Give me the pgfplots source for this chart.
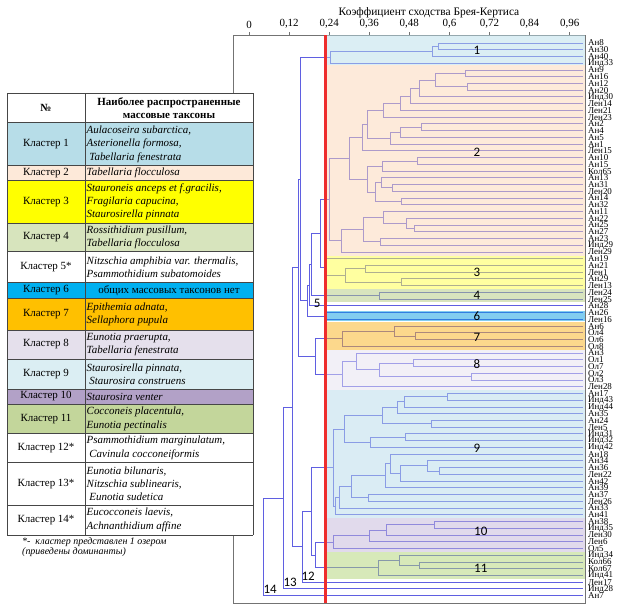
\documentclass[border=0pt]{standalone}
\usepackage{fontspec}
\setmainfont{Liberation Serif}
\newfontfamily\numfont{Carlito}
\usepackage{pgfplots}
\pgfplotsset{compat=1.18}
\definecolor{treeblue}{RGB}{95,95,225}
\definecolor{redln}{RGB}{238,45,45}
\definecolor{bA}{RGB}{183,221,233}
\definecolor{bB}{RGB}{251,213,181}
\definecolor{bC}{RGB}{255,255,65}
\definecolor{bD}{RGB}{177,201,125}
\definecolor{bF}{RGB}{5,155,225}
\definecolor{bG}{RGB}{249,177,25}
\definecolor{bH}{RGB}{229,225,239}
\definecolor{bI}{RGB}{181,217,233}
\definecolor{bJ}{RGB}{195,181,217}
\definecolor{bK}{RGB}{175,211,115}
% table colours
\definecolor{tA}{RGB}{183,221,232}
\definecolor{tB}{RGB}{253,233,217}
\definecolor{tC}{RGB}{255,255,0}
\definecolor{tD}{RGB}{215,228,189}
\definecolor{tF}{RGB}{0,176,240}
\definecolor{tG}{RGB}{255,192,0}
\definecolor{tH}{RGB}{229,224,236}
\definecolor{tI}{RGB}{219,238,243}
\definecolor{tJ}{RGB}{178,161,199}
\definecolor{tK}{RGB}{195,214,155}
\definecolor{tline}{RGB}{70,70,70}
\newcommand{\cell}{\fontsize{11}{13.4}\selectfont}
\newcommand{\cellit}{\fontsize{11}{13.4}\selectfont\itshape}
\pgfplotsset{tr/.style={color=treeblue, line width=0.9pt, mark=none, forget plot}}
\begin{document}
\begin{tikzpicture}
\useasboundingbox (0,0) rectangle (623bp,-612bp);
\begin{axis}[
  at={(233bp,-35bp)}, anchor=north west,
  scale only axis, width=352bp, height=568bp,
  xmin=-0.048, xmax=1.006, ymin=-0.19, ymax=84.09, y dir=reverse,
  axis line style={draw=gray!90!black, line width=0.7pt},
  xtick={0,0.12,0.24,0.36,0.48,0.6,0.72,0.84,0.96},
  xticklabels={0,{0,12},{0,24},{0,36},{0,48},{0,6},{0,72},{0,84},{0,96}},
  xtick pos=right, xticklabel pos=right,
  tick align=outside, major tick length=3bp,
  x tick style={draw=gray!90!black, line width=0.6pt},
  xticklabel style={font=\fontsize{11}{11}\selectfont},
  ytick={1,...,83},
  yticklabels={Ан8,Ан30,Ан40,Инд33,Ан9,Ан16,Ан12,Ан20,Инд30,Лен14,
   Лен21,Лен23,Ан2,Ан4,Ан5,Ан1,Лен15,Ан10,Ан15,Кол65,
   Ан13,Ан31,Лен20,Ан14,Ан32,Ан11,Ан22,Ан25,Ан27,Ан23,
   Инд29,Лен29,Ан19,Ан21,Лен1,Ан29,Лен13,Лен24,Лен25,Ан28,
   Ан26,Лен16,Ан6,Ол4,Ол6,Ол8,Ан3,Ол1,Ол7,Ол2,
   Ол3,Лен28,Ан17,Инд43,Инд44,Ан35,Ан24,Лен5,Инд31,Инд32,
   Инд42,Ан18,Ан34,Ан36,Лен22,Ан42,Ан39,Ан37,Лен26,Ан33,
   Ан41,Ан38,Инд35,Лен30,Лен6,Ол5,Инд34,Кол66,Кол67,Инд41,
   Лен17,Инд28,Ан7},
  ytick pos=right, yticklabel pos=right,
  y tick style={draw=none},
  yticklabel style={font=\fontsize{9}{9}\selectfont, inner sep=0pt, xshift=0bp},
  clip=false,
]
% ---- cluster 1
\addplot[tr] coordinates {(1,1)(0.566,1)(0.566,2)(1,2)};
\addplot[tr] coordinates {(0.566,1.5)(0.55,1.5)(0.55,3)(1,3)};
\addplot[tr] coordinates {(0.55,2.25)(0.245,2.25)(0.245,4)(1,4)};
% ---- cluster 2
\addplot[tr] coordinates {(1,5)(0.647,5)(0.647,6)(1,6)};
\addplot[tr] coordinates {(1,7)(0.653,7)(0.653,8)(1,8)};
\addplot[tr] coordinates {(0.647,5.5)(0.559,5.5)(0.559,7.5)(0.653,7.5)};
\addplot[tr] coordinates {(0.559,6.5)(0.509,6.5)(0.509,9)(1,9)};
\addplot[tr] coordinates {(0.509,7.75)(0.482,7.75)(0.482,10)(1,10)};
\addplot[tr] coordinates {(0.482,8.875)(0.452,8.875)(0.452,11)(1,11)};
\addplot[tr] coordinates {(0.452,9.9375)(0.402,9.9375)(0.402,12)(1,12)};
\addplot[tr] coordinates {(1,13)(0.515,13)(0.515,14)(1,14)};
\addplot[tr] coordinates {(0.515,13.5)(0.452,13.5)(0.452,15)(1,15)};
\addplot[tr] coordinates {(0.452,14.25)(0.422,14.25)(0.422,16)(1,16)};
\addplot[tr] coordinates {(0.402,10.969)(0.354,10.969)(0.354,15.125)(0.422,15.125)};
\addplot[tr] coordinates {(0.354,13.047)(0.339,13.047)(0.339,17)(1,17)};
\addplot[tr] coordinates {(1,18)(0.505,18)(0.505,19)(1,19)};
\addplot[tr] coordinates {(0.505,18.5)(0.399,18.5)(0.399,20)(1,20)};
\addplot[tr] coordinates {(1,22)(0.429,22)(0.429,23)(1,23)};
\addplot[tr] coordinates {(1,21)(0.397,21)(0.397,22.5)(0.429,22.5)};
\addplot[tr] coordinates {(1,24)(0.455,24)(0.455,25)(1,25)};
\addplot[tr] coordinates {(0.397,21.75)(0.379,21.75)(0.379,24.5)(0.455,24.5)};
\addplot[tr] coordinates {(0.399,19.25)(0.354,19.25)(0.354,23.125)(0.379,23.125)};
\addplot[tr] coordinates {(0.339,15.023)(0.302,15.023)(0.302,21.1875)(0.354,21.1875)};
\addplot[tr] coordinates {(1,28)(0.494,28)(0.494,29)(1,29)};
\addplot[tr] coordinates {(1,27)(0.472,27)(0.472,28.5)(0.494,28.5)};
\addplot[tr] coordinates {(1,26)(0.402,26)(0.402,27.75)(0.472,27.75)};
\addplot[tr] coordinates {(1,30)(0.392,30)(0.392,31)(1,31)};
\addplot[tr] coordinates {(0.402,26.875)(0.342,26.875)(0.342,30.5)(0.392,30.5)};
\addplot[tr] coordinates {(0.342,28.6875)(0.277,28.6875)(0.277,32)(1,32)};
\addplot[tr] coordinates {(0.302,18.105)(0.24,18.105)(0.24,30.344)(0.277,30.344)};
% ---- cluster 3
\addplot[tr] coordinates {(1,34)(0.35,34)(0.35,35)(1,35)};
\addplot[tr] coordinates {(1,36)(0.457,36)(0.457,37)(1,37)};
\addplot[tr] coordinates {(0.35,34.5)(0.29,34.5)(0.29,36.5)(0.457,36.5)};
\addplot[tr] coordinates {(1,33)(0.232,33)(0.232,35.5)(0.29,35.5)};
\addplot[tr] coordinates {(0.24,24.224)(0.215,24.224)(0.215,34.25)(0.232,34.25)};
% ---- cluster 4, 5, 6
\addplot[tr] coordinates {(1,38)(0.39,38)(0.39,39)(1,39)};
\addplot[tr] coordinates {(0.215,29.237)(0.186,29.237)(0.186,38.5)(0.39,38.5)};
\addplot[tr] coordinates {(0.186,33.87)(0.18,33.87)(0.18,40)(1,40)};
\addplot[tr] coordinates {(1,41)(0.228,41)(0.228,42)(1,42)};
\addplot[tr] coordinates {(0.18,36.93)(0.174,36.93)(0.174,41.5)(0.228,41.5)};
\addplot[tr] coordinates {(0.245,3.125)(0.155,3.125)(0.155,39.22)(0.174,39.22)};
% ---- cluster 7, 8
\addplot[tr] coordinates {(1,44)(0.497,44)(0.497,45)(1,45)};
\addplot[tr] coordinates {(1,43)(0.434,43)(0.434,44.5)(0.497,44.5)};
\addplot[tr] coordinates {(0.434,43.75)(0.28,43.75)(0.28,46)(1,46)};
\addplot[tr] coordinates {(1,48)(0.492,48)(0.492,49)(1,49)};
\addplot[tr] coordinates {(1,50)(0.667,50)(0.667,51)(1,51)};
\addplot[tr] coordinates {(0.492,48.5)(0.39,48.5)(0.39,50.5)(0.667,50.5)};
\addplot[tr] coordinates {(1,47)(0.322,47)(0.322,49.5)(0.39,49.5)};
\addplot[tr] coordinates {(0.322,48.25)(0.28,48.25)(0.28,52)(1,52)};
\addplot[tr] coordinates {(0.28,44.875)(0.2,44.875)(0.2,50.125)(0.28,50.125)};
\addplot[tr] coordinates {(0.155,21.17)(0.148,21.17)(0.148,47.5)(0.2,47.5)};
% ---- cluster 9
\addplot[tr] coordinates {(1,53)(0.594,53)(0.594,54)(1,54)};
\addplot[tr] coordinates {(0.594,53.5)(0.464,53.5)(0.464,55)(1,55)};
\addplot[tr] coordinates {(0.464,54.25)(0.444,54.25)(0.444,56)(1,56)};
\addplot[tr] coordinates {(1,57)(0.545,57)(0.545,58)(1,58)};
\addplot[tr] coordinates {(0.444,55.125)(0.4,55.125)(0.4,57.5)(0.545,57.5)};
\addplot[tr] coordinates {(1,59)(0.467,59)(0.467,60)(1,60)};
\addplot[tr] coordinates {(0.467,59.5)(0.364,59.5)(0.364,61)(1,61)};
\addplot[tr] coordinates {(0.4,56.3125)(0.287,56.3125)(0.287,60.25)(0.364,60.25)};
\addplot[tr] coordinates {(1,64)(0.57,64)(0.57,65)(1,65)};
\addplot[tr] coordinates {(1,63)(0.535,63)(0.535,64.5)(0.57,64.5)};
\addplot[tr] coordinates {(0.535,63.75)(0.454,63.75)(0.454,66)(1,66)};
\addplot[tr] coordinates {(1,62)(0.422,62)(0.422,64.875)(0.454,64.875)};
\addplot[tr] coordinates {(0.422,63.4375)(0.407,63.4375)(0.407,67)(1,67)};
\addplot[tr] coordinates {(1,68)(0.357,68)(0.357,69)(1,69)};
\addplot[tr] coordinates {(0.407,65.22)(0.307,65.22)(0.307,68.5)(0.357,68.5)};
\addplot[tr] coordinates {(0.307,66.86)(0.272,66.86)(0.272,70)(1,70)};
\addplot[tr] coordinates {(0.272,68.43)(0.26,68.43)(0.26,71)(1,71)};
\addplot[tr] coordinates {(0.287,58.28)(0.253,58.28)(0.253,69.715)(0.26,69.715)};
% ---- cluster 10, 11
\addplot[tr] coordinates {(1,72)(0.554,72)(0.554,73)(1,73)};
\addplot[tr] coordinates {(0.554,72.5)(0.41,72.5)(0.41,74)(1,74)};
\addplot[tr] coordinates {(0.41,73.25)(0.362,73.25)(0.362,75)(1,75)};
\addplot[tr] coordinates {(0.362,74.125)(0.253,74.125)(0.253,76)(1,76)};
\addplot[tr] coordinates {(1,78)(0.51,78)(0.51,79)(1,79)};
\addplot[tr] coordinates {(1,77)(0.449,77)(0.449,78.5)(0.51,78.5)};
\addplot[tr] coordinates {(0.449,77.75)(0.387,77.75)(0.387,80)(1,80)};
\addplot[tr] coordinates {(0.253,75.06)(0.198,75.06)(0.198,78.875)(0.387,78.875)};
\addplot[tr] coordinates {(0.253,64.0)(0.188,64.0)(0.188,76.97)(0.198,76.97)};
% ---- upper levels 12, 13, 14
\addplot[tr] coordinates {(0.188,70.485)(0.161,70.485)(0.161,81)(1,81)};
\addplot[tr] coordinates {(0.148,34.33)(0.13,34.33)(0.13,75.74)(0.161,75.74)};
\addplot[tr] coordinates {(0.13,55.035)(0.103,55.035)(0.103,82)(1,82)};
\addplot[tr] coordinates {(0.103,68.52)(0.043,68.52)(0.043,83)(1,83)};
% ---- cluster bands (translucent, over the lines)
\begin{scope}[fill opacity=0.5]
\fill[bA] (axis cs:0.229,-0.19) rectangle (axis cs:1.006,4.3);
\fill[bB] (axis cs:0.229,4.3) rectangle (axis cs:1.006,32.6);
\fill[bC] (axis cs:0.229,32.6) rectangle (axis cs:1.006,37.45);
\fill[bD] (axis cs:0.229,37.45) rectangle (axis cs:1.006,39.45);
\fill[bF] (axis cs:0.229,40.7) rectangle (axis cs:1.006,42.2);
\fill[bG] (axis cs:0.229,42.4) rectangle (axis cs:1.006,46.55);
\fill[bH] (axis cs:0.229,46.55) rectangle (axis cs:1.006,52.5);
\fill[bI] (axis cs:0.229,52.5) rectangle (axis cs:1.006,71.47);
\fill[bJ] (axis cs:0.229,71.47) rectangle (axis cs:1.006,76.47);
\fill[bK] (axis cs:0.229,76.47) rectangle (axis cs:1.006,80.5);
\end{scope}
% ---- threshold line (as a filled strip)
\fill[fill=redln, fill opacity=1] (axis cs:0.2257,-0.19) rectangle (axis cs:0.2323,84.09);
% ---- cluster numbers
\begin{scope}[every node/.style={font=\numfont\fontsize{13}{13}\selectfont, inner sep=0pt}]
\node at (axis cs:0.682,2.05) {1};
\node at (axis cs:0.682,17.2) {2};
\node at (axis cs:0.682,35.0) {3};
\node at (axis cs:0.682,38.5) {4};
\node at (axis cs:0.204,39.7) {5};
\node at (axis cs:0.682,41.5) {6};
\node at (axis cs:0.682,44.6) {7};
\node at (axis cs:0.682,48.7) {8};
\node at (axis cs:0.682,61.1) {9};
\node at (axis cs:0.694,73.4) {10};
\node at (axis cs:0.694,78.9) {11};
\node at (axis cs:0.177,80.1) {12};
\node at (axis cs:0.123,81.0) {13};
\node at (axis cs:0.063,82.0) {14};
\end{scope}
\end{axis}
% ---- axis title
\node[font=\fontsize{11.5}{11.5}\selectfont] at (429bp,-13bp) {Коэффициент сходства Брея-Кертиса};
% ---- table
\begin{scope}[x=1bp,y=-1bp]
\fill[white] (7,93) rectangle (253,535);
\fill[tA] (7,122.7) rectangle (253,165.7);
\fill[tB] (7,165.7) rectangle (253,180);
\fill[tC] (7,180) rectangle (253,223.3);
\fill[tD] (7,223.3) rectangle (253,251.7);
\fill[tF] (7,282.7) rectangle (253,298.3);
\fill[tG] (7,298.3) rectangle (253,330);
\fill[tH] (7,330) rectangle (253,359);
\fill[tI] (7,359) rectangle (253,389);
\fill[tJ] (7,389) rectangle (253,404);
\fill[tK] (7,404) rectangle (253,433.3);
\begin{scope}[draw=tline, line width=0.7pt]
\foreach \yy in {93,122.7,165.7,180,223.3,251.7,282.7,298.3,330,359,389,404,433.3,462.7,505,535}
  {\draw (7,\yy) -- (253,\yy);}
\draw (7,93) -- (7,535);
\draw (85,93) -- (85,535);
\draw (253,93) -- (253,535);
\end{scope}
% header
\node[font=\cell\bfseries] at (46,107.9) {№};
\node[font=\cell\bfseries, align=center] at (169,107.9) {Наиболее распространенные\\массовые таксоны};
% column 1
\begin{scope}[every node/.style={font=\cell, inner sep=0pt}]
\node at (46,144.2) {Кластер 1};
\node at (46,172.9) {Кластер 2};
\node at (46,201.7) {Кластер 3};
\node at (46,237.5) {Кластер 4};
\node at (46,267.2) {Кластер 5*};
\node at (46,290.5) {Кластер 6};
\node at (46,314.2) {Кластер 7};
\node at (46,344.5) {Кластер 8};
\node at (46,374) {Кластер 9};
\node at (46,396.5) {Кластер 10};
\node at (46,418.7) {Кластер 11};
\node at (46,448) {Кластер 12*};
\node at (46,483.9) {Кластер 13*};
\node at (46,520) {Кластер 14*};
\end{scope}
% column 2
\begin{scope}[every node/.style={font=\cellit, inner sep=0pt, anchor=west, align=left}]
\node at (86.5,144.2) {Aulacoseira subarctica,\\Asterionella formosa,\\\ Tabellaria fenestrata};
\node at (86.5,172.9) {Tabellaria flocculosa};
\node at (86.5,201.7) {Stauroneis anceps et f.gracilis,\\Fragilaria capucina,\\Staurosirella pinnata};
\node at (86.5,237.5) {Rossithidium pusillum,\\Tabellaria flocculosa};
\node at (86.5,267.2) {Nitzschia amphibia var. thermalis,\\Psammothidium subatomoides};
\node at (86.5,314.2) {Epithemia adnata,\\Sellaphora pupula};
\node at (86.5,344.5) {Eunotia praerupta,\\Tabellaria fenestrata};
\node at (86.5,374) {Staurosirella pinnata,\\\ Staurosira construens};
\node at (86.5,396.5) {Staurosira venter};
\node at (86.5,418.7) {Cocconeis placentula,\\Eunotia pectinalis};
\node at (86.5,448) {Psammothidium marginulatum,\\\ Cavinula cocconeiformis};
\node at (86.5,483.9) {Eunotia bilunaris,\\Nitzschia sublinearis,\\\ Eunotia sudetica};
\node at (86.5,520) {Eucocconeis laevis,\\Achnanthidium affine};
\end{scope}
\node[font=\cell, inner sep=0pt] at (169,290.5) {общих массовых таксонов нет};
% footnote
\node[font=\fontsize{10}{10.5}\selectfont\itshape, anchor=north west, align=left, inner sep=0pt] at (22,537) {*-\ \ кластер представлен 1 озером\\(приведены доминанты)};
\end{scope}
\end{tikzpicture}
\end{document}
